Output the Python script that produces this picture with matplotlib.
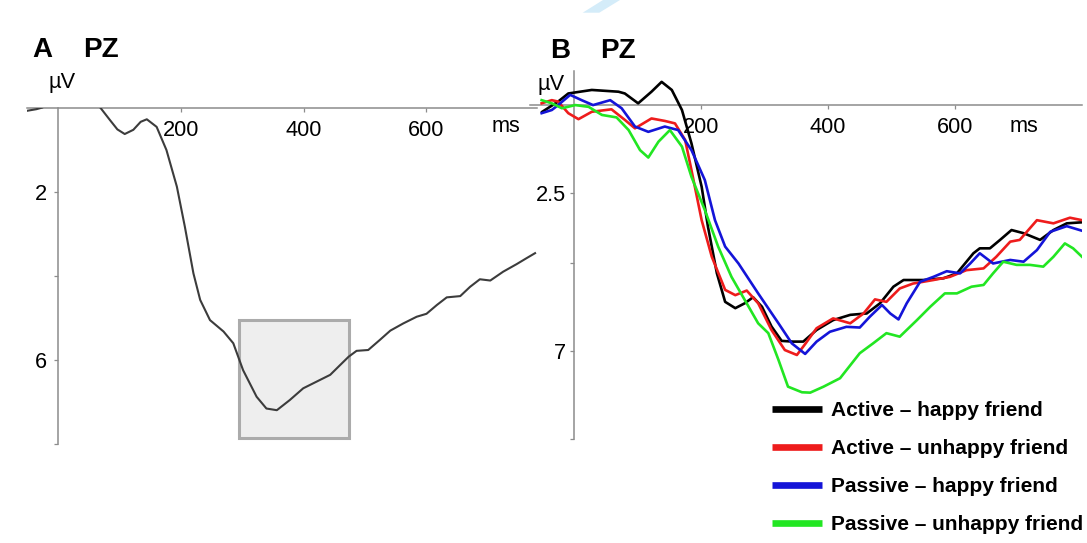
import matplotlib
matplotlib.use("Agg")
import matplotlib.pyplot as plt
from matplotlib.patches import Rectangle, Polygon
from matplotlib.lines import Line2D

# ---------------- data ----------------
# Panel A: grand-average ERP at PZ
a_ms = [-52, -36, -26, -10, 10, 30, 50, 68, 84, 96, 108, 122, 134, 144, 160, 176,
        193, 206, 220, 231, 247, 269, 285, 301, 323, 339, 356, 377, 399, 421, 443,
        459, 473, 486, 505, 524, 541, 562, 584, 600, 617, 633, 655, 671, 687, 704,
        725, 747, 763, 777]
a_uv = [0.08, 0.04, 0.0, -0.25, -0.35, -0.3, -0.15, 0.0, 0.3, 0.52, 0.63, 0.53, 0.34,
        0.28, 0.46, 1.01, 1.88, 2.83, 3.94, 4.57, 5.05, 5.32, 5.6, 6.24, 6.87, 7.15,
        7.19, 6.95, 6.67, 6.51, 6.35, 6.12, 5.92, 5.78, 5.76, 5.52, 5.3, 5.13, 4.97,
        4.9, 4.69, 4.51, 4.48, 4.26, 4.08, 4.11, 3.9, 3.72, 3.58, 3.46]
# analysis window
win_ms = (295, 473)
win_uv = (5.05, 7.85)

# Panel B: conditions at PZ
act_happy_ms = [-50, -25, -9, 28, 70, 80, 101, 122, 138, 154, 170, 185, 201, 211, 225,
                238, 254, 269, 282, 296, 311, 327, 345, 361, 382, 408, 435, 461, 482,
                503, 519, 550, 582, 603, 629, 639, 655, 671, 689, 708, 734, 755, 776, 800]
act_happy_uv = [0.2, -0.09, -0.32, -0.42, -0.37, -0.32, -0.04, -0.37, -0.65, -0.42,
                0.15, 1.10, 2.33, 3.47, 4.79, 5.6, 5.78, 5.64, 5.47, 5.74, 6.3, 6.71,
                6.73, 6.73, 6.4, 6.12, 5.97, 5.93, 5.64, 5.17, 4.98, 4.98, 4.93, 4.79,
                4.22, 4.08, 4.08, 3.84, 3.56, 3.65, 3.84, 3.56, 3.37, 3.34]

act_unhappy_ms = [-51, -35, -25, -9, 7, 28, 59, 80, 96, 122, 143, 159, 175, 185, 201,
                  217, 238, 254, 272, 290, 311, 332, 351, 364, 382, 408, 435, 456, 474,
                  492, 513, 534, 566, 592, 618, 645, 665, 687, 702, 729, 755, 781, 800]
act_unhappy_uv = [-0.04, -0.13, -0.09, 0.24, 0.41, 0.2, 0.13, 0.43, 0.67, 0.39, 0.46,
                  0.53, 1.0, 1.86, 3.28, 4.32, 5.26, 5.41, 5.28, 5.64, 6.4, 6.97, 7.11,
                  6.8, 6.35, 6.07, 6.21, 5.93, 5.53, 5.6, 5.22, 5.08, 4.98, 4.89, 4.7,
                  4.65, 4.32, 3.89, 3.84, 3.28, 3.37, 3.21, 3.28]

pas_happy_ms = [-51, -35, -25, -6, 12, 30, 57, 75, 96, 117, 143, 164, 185, 206, 222,
                238, 259, 290, 322, 343, 364, 382, 403, 429, 450, 466, 485, 498, 511,
                524, 545, 566, 587, 608, 624, 639, 660, 687, 708, 729, 750, 776, 800]
pas_happy_uv = [0.24, 0.15, 0.01, -0.28, -0.13, 0.01, -0.13, 0.1, 0.62, 0.77, 0.62,
                0.72, 1.29, 2.14, 3.28, 4.03, 4.51, 5.36, 6.21, 6.78, 7.08, 6.73, 6.45,
                6.31, 6.33, 6.02, 5.69, 5.93, 6.1, 5.64, 5.03, 4.89, 4.73, 4.79, 4.51,
                4.22, 4.51, 4.41, 4.46, 4.13, 3.61, 3.45, 3.58]

pas_unhappy_ms = [-51, -35, -19, 2, 23, 44, 67, 86, 104, 117, 133, 151, 170, 185, 206,
                  227, 248, 269, 290, 306, 322, 337, 359, 372, 393, 419, 450, 471, 492,
                  513, 540, 561, 584, 603, 626, 645, 660, 676, 697, 718, 739, 755, 773,
                  786, 800]
pas_unhappy_uv = [-0.13, -0.04, 0.1, 0.01, 0.06, 0.29, 0.36, 0.72, 1.29, 1.5, 1.05,
                  0.72, 1.19, 2.05, 2.99, 4.03, 4.89, 5.55, 6.21, 6.49, 7.25, 8.01, 8.17,
                  8.18, 8.01, 7.77, 7.06, 6.78, 6.49, 6.59, 6.12, 5.74, 5.36, 5.36, 5.17,
                  5.12, 4.79, 4.46, 4.55, 4.55, 4.6, 4.32, 3.94, 4.08, 4.32]

labels = ["Active \u2013 happy friend", "Active \u2013 unhappy friend",
          "Passive \u2013 happy friend", "Passive \u2013 unhappy friend"]
colors = ["#000000", "#ee1c1c", "#1414d8", "#22e622"]

x_ticks = [200, 400, 600]
a_yticks = [2, 4, 6, 8]
a_ylabels = ["2", "", "6", ""]
b_yticks = [2.5, 4.5, 7, 9.5]
b_ylabels = ["2.5", "", "7", ""]

# ---------------- layout ----------------
W, H, DPI = 1087, 543, 100
plt.rcParams["font.family"] = ["Liberation Sans", "DejaVu Sans"]
fig = plt.figure(figsize=(W / DPI, H / DPI), dpi=DPI)
fig.patch.set_facecolor("white")


def px_box(left, top, right, bottom):
    return [left / W, 1 - bottom / H, (right - left) / W, (bottom - top) / H]


def px_text(x, y, s, **kw):
    fig.text(x / W, 1 - y / H, s, **kw)


AXIS_C = "#8c8c8c"
TICK_FS = 15.7


def style_axes(ax, xlim, ylim, yticks, ylabels, ypad):
    ax.set_facecolor("none")
    ax.set_xlim(*xlim)
    ax.set_ylim(*ylim)
    for s in ("top", "right"):
        ax.spines[s].set_visible(False)
    ax.spines["left"].set_position(("data", 0))
    ax.spines["bottom"].set_position(("data", 0))
    for s in ("left", "bottom"):
        ax.spines[s].set_color(AXIS_C)
        ax.spines[s].set_linewidth(1.1)
    ax.set_xticks(x_ticks)
    ax.set_xticklabels([str(t) for t in x_ticks])
    ax.set_yticks(yticks)
    ax.set_yticklabels(ylabels)
    ax.tick_params(axis="x", direction="out", length=3, width=0.9, color=AXIS_C,
                   pad=6, labelsize=TICK_FS, labelcolor="black")
    ax.tick_params(axis="y", direction="out", length=3, width=0.9, color=AXIS_C,
                   pad=ypad, labelsize=TICK_FS, labelcolor="black")


# Panel A
axA = fig.add_axes(px_box(26.6, 107.5, 536.9, 444.3))
style_axes(axA, (-52, 780), (8, 0), a_yticks, a_ylabels, 5)
axA.add_patch(Rectangle((win_ms[0], win_uv[0]), win_ms[1] - win_ms[0],
                        win_uv[1] - win_uv[0], facecolor="#eeeeee",
                        edgecolor="#ababab", linewidth=2.2, zorder=1))
axA.plot(a_ms, a_uv, color="#3c3c3c", lw=1.5, solid_joinstyle="round", zorder=3)

# Panel B
axB = fig.add_axes(px_box(530.2, 71.3, 1082, 439.1))
style_axes(axB, (-69, 800), (9.5, -0.95), b_yticks, b_ylabels, 3)
series = [(act_happy_ms, act_happy_uv), (act_unhappy_ms, act_unhappy_uv),
          (pas_happy_ms, pas_happy_uv), (pas_unhappy_ms, pas_unhappy_uv)]
draw_order = [3, 2, 1, 0]
for i in draw_order:
    ms, uv = series[i]
    axB.plot(ms, uv, color=colors[i], lw=1.9, solid_joinstyle="round", zorder=3 + i)

# Panel titles and unit labels
px_text(32.7, 56.7, "A", fontsize=20, fontweight="bold", ha="left", va="baseline")
px_text(83.3, 56.7, "PZ", fontsize=20, fontweight="bold", ha="left", va="baseline")
px_text(550, 58, "B", fontsize=20, fontweight="bold", ha="left", va="baseline")
px_text(600, 58, "PZ", fontsize=20, fontweight="bold", ha="left", va="baseline")
px_text(62, 88.3, "\u00b5V", fontsize=TICK_FS, ha="center", va="baseline")
px_text(551.5, 90, "\u00b5V", fontsize=TICK_FS, ha="center", va="baseline")
px_text(506, 132, "ms", fontsize=TICK_FS, ha="center", va="baseline")
px_text(1024, 131.7, "ms", fontsize=TICK_FS, ha="center", va="baseline")

# Legend
handles = [Line2D([], [], color=c, lw=4.8, solid_capstyle="butt") for c in colors]
fig.legend(handles, labels, loc="upper left",
           bbox_to_anchor=(772 / W, 1 - 401 / H), frameon=False,
           prop={"weight": "bold", "size": 15}, handlelength=2.4,
           handletextpad=0.43, labelspacing=0.91, borderpad=0, borderaxespad=0)

# Light blue mark at the top edge
fig.patches.append(Polygon([(603 / W, 1.0), (620 / W, 1.0),
                            (599.3 / W, 1 - 12.7 / H), (582.7 / W, 1 - 12.7 / H)],
                           closed=True, transform=fig.transFigure,
                           facecolor="#d4ecf9", edgecolor="none"))

fig.savefig("out.png", dpi=DPI)
